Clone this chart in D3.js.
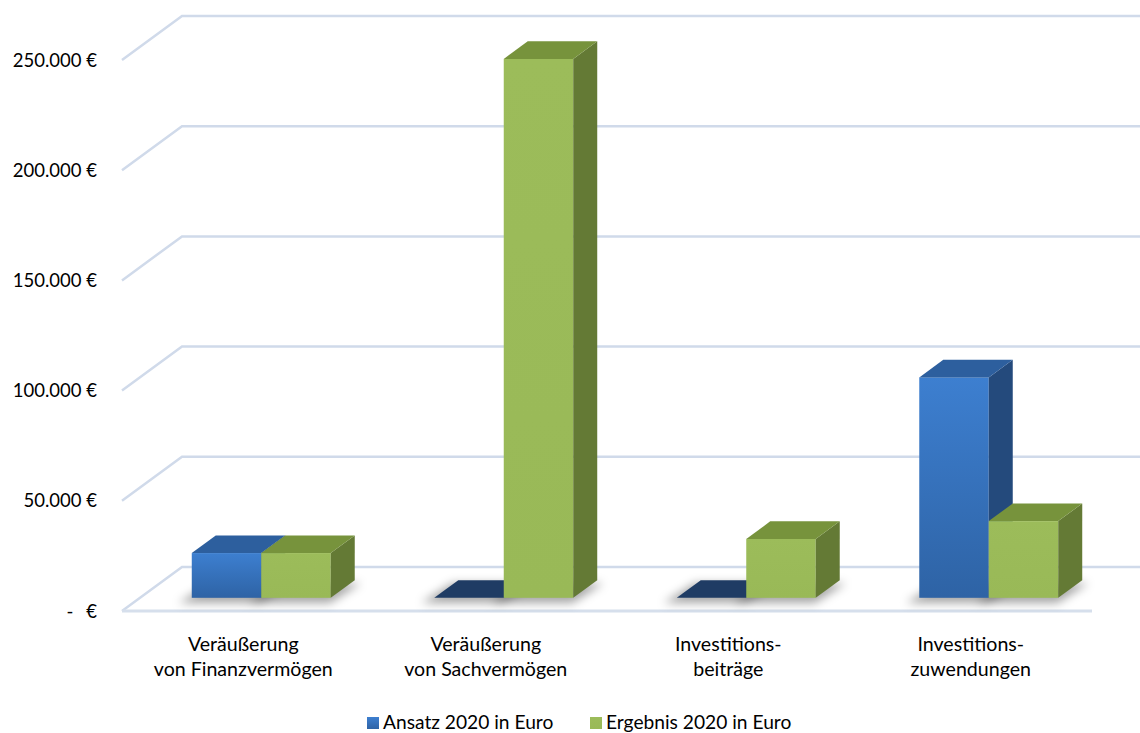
<!DOCTYPE html>
<html><head><meta charset="utf-8">
<script src="https://cdn.jsdelivr.net/npm/d3@7"></script>
<style>body{margin:0;background:#fff}svg{display:block}text{font-family:Lato,"Open Sans",sans-serif;fill:#000}</style>
</head><body><svg id="c" width="1140" height="733"></svg>
<script>
// ---- data ----
const categories = [["Veräußerung","von Finanzvermögen"],["Veräußerung","von Sachvermögen"],["Investitions-","beiträge"],["Investitions-","zuwendungen"]];
const seriesNames = ["Ansatz 2020 in Euro","Ergebnis 2020 in Euro"];
const ansatz = [20300, 0, 0, 100000];
const ergebnis = [20300, 244500, 26700, 34800];
const tickValues = [0,50000,100000,150000,200000,250000];
const tickLabels = ["-   €","50.000 €","100.000 €","150.000 €","200.000 €","250.000 €"];

// ---- layout ----
const svg = d3.select("#c");
const W = 1140;
const DX = 60, DY = -44;       // full depth offset
const Z0 = 0.3, Z1 = 0.7;      // bar depth range
const y = d3.scaleLinear().domain([0,250000]).range([611,60]);
const x = d3.scaleBand().domain(d3.range(categories.length)).range([122,1092]).padding(0);
const sub = d3.scaleBand().domain([0,1]).range([0, x.bandwidth()]).paddingOuter(0.745).paddingInner(0);
const P = (xs, v, z) => [xs + z*DX, y(v) + z*DY];
const pts = a => a.map(p => p.join(",")).join(" ");

const defs = svg.append("defs");
const gBlue = defs.append("linearGradient").attr("id","gb").attr("x1",0).attr("y1",0).attr("x2",0).attr("y2",1);
gBlue.append("stop").attr("offset","0").attr("stop-color","#3d7fd0");
gBlue.append("stop").attr("offset","1").attr("stop-color","#2e63a5");
const gGreen = defs.append("linearGradient").attr("id","gg").attr("x1",0).attr("y1",0).attr("x2",0).attr("y2",1);
gGreen.append("stop").attr("offset","0").attr("stop-color","#9cbc5a");
gGreen.append("stop").attr("offset","1").attr("stop-color","#99b957");
defs.append("filter").attr("id","blur").attr("x","-50%").attr("y","-50%").attr("width","200%").attr("height","200%")
  .append("feGaussianBlur").attr("stdDeviation",5);

const colors = [
  {front:"url(#gb)", top:"#2d5f9e", side:"#244a7c", flat:"#1f3c64"},
  {front:"url(#gg)", top:"#77933c", side:"#647a35", flat:"#5f7530"}
];

// ---- walls / gridlines ----
const grid = svg.append("g");
tickValues.forEach(t => {
  const a = P(x.range()[0], t, 0), b = P(x.range()[0], t, 1);
  grid.append("polyline").attr("points", pts([a, b, [W, b[1]]]))
    .attr("fill","none").attr("stroke","#d0daea").attr("stroke-width",2.5);
});
// floor front edge
grid.append("line").attr("x1",x.range()[0]).attr("x2",x.range()[1])
  .attr("y1",y(0)).attr("y2",y(0)).attr("stroke","#d6dfec").attr("stroke-width",3);

// y labels
const yl = svg.append("g").attr("font-size",18.5);
tickValues.forEach((t,i) => {
  if (t === 0) {
    yl.append("text").attr("x",70).attr("y",y(t)+6.5).attr("text-anchor","middle").text("-");
    yl.append("text").attr("x",97).attr("y",y(t)+6.5).attr("text-anchor","end").text("€");
  } else {
    yl.append("text").attr("x",97).attr("y",y(t)+6.5).attr("text-anchor","end").text(tickLabels[i]);
  }
});

// ---- bars ----
const series = [ansatz, ergebnis];
const shadows = svg.append("g").attr("filter","url(#blur)");
const bars = svg.append("g");
categories.forEach((c, ci) => {
  series.forEach((vals, si) => {
    const xl = x(ci) + sub(si), xr = xl + sub.bandwidth();
    shadows.append("polygon")
      .attr("points", pts([P(xl-6,0,Z0-0.05), P(xr+6,0,Z0-0.05), P(xr+10,0,Z1), P(xl-2,0,Z1)]))
      .attr("transform","translate(-4,3)")
      .attr("fill","#000").attr("opacity",0.35);
  });
});
categories.forEach((c, ci) => {
  series.forEach((vals, si) => {
    const v = vals[ci];
    const xl = x(ci) + sub(si), xr = xl + sub.bandwidth();
    const col = colors[si];
    const g = bars.append("g");
    if (v === 0) {
      g.append("polygon").attr("points", pts([P(xl,0,Z0),P(xr,0,Z0),P(xr,0,Z1),P(xl,0,Z1)])).attr("fill",col.flat);
      return;
    }
    const f0 = P(xl, v, Z0), f1 = P(xr, 0, Z0);
    g.append("rect").attr("x",f0[0]).attr("y",f0[1]).attr("width",f1[0]-f0[0]).attr("height",f1[1]-f0[1]).attr("fill",col.front);
    g.append("polygon").attr("points", pts([P(xr,v,Z0),P(xr,v,Z1),P(xr,0,Z1),P(xr,0,Z0)])).attr("fill",col.side);
    g.append("polygon").attr("points", pts([P(xl,v,Z0),P(xr,v,Z0),P(xr,v,Z1),P(xl,v,Z1)])).attr("fill",col.top);
  });
});

// ---- category labels ----
const cl = svg.append("g").attr("font-size",19.6).attr("text-anchor","middle");
categories.forEach((c, ci) => {
  const cx = x(ci) + x.bandwidth()/2;
  c.forEach((line, li) => cl.append("text").attr("x",cx).attr("y",651 + li*25).text(line));
});

// ---- legend ----
const lg = svg.append("g").attr("font-size",19.2);
const legX = [367, 590];
seriesNames.forEach((n, i) => {
  lg.append("rect").attr("x",legX[i]).attr("y",717).attr("width",12).attr("height",12).attr("fill", colors[i].front);
  lg.append("text").attr("x",legX[i]+16).attr("y",729).text(n);
});
</script></body></html>
